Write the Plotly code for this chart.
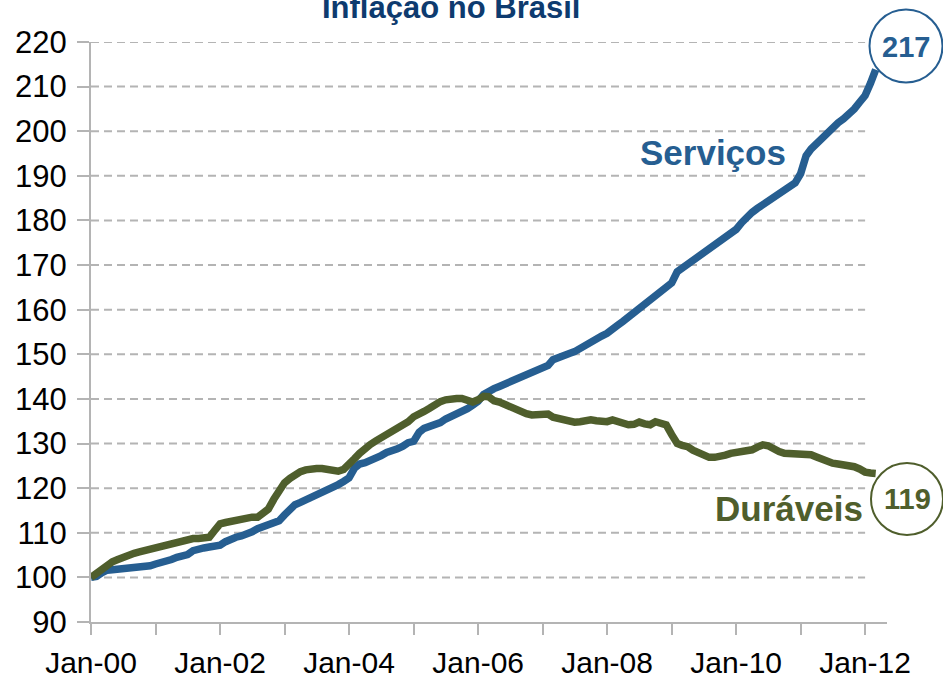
import pandas as pd
import plotly.graph_objects as go

# ---- data (monthly index, Jan-2000 = 100) ----
start_month = "2000-01-01"
servicos = [
    100.0, 100.2, 101.0, 101.6, 101.7, 101.8, 101.8, 101.9, 102.0, 102.0, 102.1, 102.6,  # 2000
    103.0, 103.2, 103.4, 104.0, 104.5, 104.8, 105.1, 106.0, 106.5, 106.6, 106.8, 107.0,  # 2001
    107.2, 108.0, 108.7, 109.0, 109.3, 109.6, 110.2, 110.9, 111.4, 111.8, 112.2, 112.7,  # 2002
    114.0, 115.5, 116.3, 116.8, 117.3, 118.0, 118.6, 119.1, 119.6, 120.3, 120.8, 121.5,  # 2003
    122.3, 124.5, 125.4, 125.7, 126.1, 126.5, 127.3, 128.0, 128.3, 128.8, 129.4, 130.2,  # 2004
    130.5, 132.5, 133.4, 133.8, 134.3, 134.7, 135.5, 136.0, 136.6, 137.2, 137.8, 138.6,  # 2005
    139.5, 141.0, 141.8, 142.3, 142.8, 143.3, 143.8, 144.3, 144.8, 145.3, 145.8, 146.3,  # 2006
    146.9, 147.5, 148.8, 149.4, 149.8, 150.2, 150.6, 151.4, 152.2, 152.8, 153.4, 154.1,  # 2007
    154.7, 155.4, 156.5, 157.4, 158.3, 159.2, 160.3, 161.1, 162.0, 162.8, 163.7, 164.6,  # 2008
    166.0, 168.5, 169.3, 170.0, 170.8, 171.8, 172.7, 173.5, 174.3, 175.0, 175.8, 177.0,  # 2009
    178.0, 179.5, 180.8, 181.8, 182.7, 183.5, 184.2, 184.9, 185.7, 186.8, 187.6, 188.4,  # 2010
    190.5, 194.5, 196.0, 197.3, 198.5, 199.6, 200.8, 201.9, 202.8, 203.8, 205.0, 206.5,  # 2011
    208.0, 210.8, 213.8,                                                                 # 2012
]
duraveis = [
    100.0, 101.0, 102.0, 102.9, 103.5, 104.0, 104.6, 105.1, 105.4, 105.7, 106.0, 106.4,  # 2000
    106.7, 107.0, 107.3, 107.7, 108.0, 108.2, 108.5, 108.7, 108.7, 108.8, 109.0, 110.5,  # 2001
    112.0, 112.3, 112.5, 112.8, 113.2, 113.5, 113.5, 113.5, 114.3, 115.3, 117.5, 119.5,  # 2002
    121.2, 122.2, 123.0, 123.7, 124.1, 124.4, 124.4, 124.4, 124.3, 123.9, 123.8, 124.2,  # 2003
    125.2, 126.6, 127.8, 129.0, 129.8, 130.6, 131.3, 131.9, 132.5, 133.4, 134.2, 134.9,  # 2004
    136.0, 136.9, 137.2, 137.9, 138.8, 139.4, 139.8, 140.1, 140.1, 140.1, 139.9, 139.3,  # 2005
    139.8, 140.6, 140.5, 139.6, 139.3, 138.8, 137.9, 137.7, 137.3, 136.7, 136.4, 136.5,  # 2006
    136.7, 136.6, 135.9, 135.6, 135.2, 134.9, 134.8, 134.9, 135.2, 135.3, 135.1, 134.9,  # 2007
    134.9, 135.3, 134.9, 134.3, 134.2, 134.3, 134.8, 134.4, 134.2, 134.9, 134.6, 134.2,  # 2008
    132.0, 130.0, 129.6, 129.3, 128.5, 127.8, 127.2, 126.9, 126.9, 127.0, 127.4, 127.8,  # 2009
    127.9, 128.1, 128.4, 128.6, 129.2, 129.7, 129.5, 128.6, 128.2, 127.8, 127.8, 127.8,  # 2010
    127.8, 127.8, 127.5, 127.0, 126.4, 125.9, 125.6, 125.4, 125.3, 125.1, 124.8, 124.3,  # 2011
    123.6, 123.4, 123.3,                                                                 # 2012
]
series_names = ["Serviços", "Duráveis"]
end_labels = ["217", "119"]
title_text = "Inflação no Brasil"
y_ticks = list(range(90, 221, 10))
x_tick_years = list(range(2000, 2013))
x_tick_text = [f"Jan-{y % 100:02d}" if y % 2 == 0 else "" for y in x_tick_years]

# ---- styles ----
BLUE = "#265E91"
OLIVE = "#4F5E2C"
NAVY = "#0E3B6F"
GRID = "#B4B4B4"
FONT = "Liberation Sans, Arial, Helvetica, sans-serif"

dates = pd.date_range(start_month, periods=len(servicos), freq="MS")
tick_vals = [f"{y}-01-01" for y in x_tick_years]

fig = go.Figure()
fig.add_trace(go.Scatter(x=dates, y=servicos, mode="lines", name=series_names[0],
                         line=dict(color=BLUE, width=7.5), hoverinfo="x+y"))
fig.add_trace(go.Scatter(x=dates, y=duraveis, mode="lines", name=series_names[1],
                         line=dict(color=OLIVE, width=7.5), hoverinfo="x+y"))

# dashed gridlines, ending at the last year tick
shapes = []
for v in y_ticks[1:]:
    shapes.append(dict(type="line", xref="x", yref="y", x0=tick_vals[0], x1=tick_vals[-1],
                       y0=v, y1=v, line=dict(color=GRID, width=2, dash="8px,5px"), layer="below"))

# end-value circles (paper coords, above traces)
W, H = 943, 680
ml, mr, mt, mb = 91, 56, 42, 58
pw, ph = W - ml - mr, H - mt - mb


def px2paper(px, py):
    return (px - ml) / pw, 1 - (py - mt) / ph


circles = [((906, 46), 36.5, BLUE), ((907, 499), 36, OLIVE)]
for (cx, cy), r, col in circles:
    x0, y1 = px2paper(cx - r, cy - r)
    x1, y0 = px2paper(cx + r, cy + r)
    shapes.append(dict(type="circle", xref="paper", yref="paper", x0=x0, x1=x1, y0=y0, y1=y1,
                       line=dict(color=col, width=2), fillcolor="white", layer="above"))

annotations = []
tx, ty = px2paper(451, 7)
annotations.append(dict(text=f"<b>{title_text}</b>", xref="paper", yref="paper", x=tx, y=ty,
                        xanchor="center", yanchor="middle", showarrow=False,
                        font=dict(family=FONT, size=31, color=NAVY)))
for (cx, cy), txt, col in [((906, 47), end_labels[0], BLUE), ((907, 499), end_labels[1], OLIVE)]:
    ax, ay = px2paper(cx, cy)
    annotations.append(dict(text=f"<b>{txt}</b>", xref="paper", yref="paper", x=ax, y=ay,
                            xanchor="center", yanchor="middle", showarrow=False,
                            font=dict(family=FONT, size=29, color=col)))
for (cx, cy), txt, col in [((713, 152), series_names[0], BLUE), ((788.5, 508), series_names[1], OLIVE)]:
    ax, ay = px2paper(cx, cy)
    annotations.append(dict(text=f"<b>{txt}</b>", xref="paper", yref="paper", x=ax, y=ay,
                            xanchor="center", yanchor="middle", showarrow=False,
                            font=dict(family=FONT, size=35, color=col)))

fig.update_layout(
    width=W, height=H,
    margin=dict(l=ml, r=mr, t=mt, b=mb, pad=0, autoexpand=False),
    paper_bgcolor="white", plot_bgcolor="white",
    showlegend=False,
    font=dict(family=FONT, size=31, color="black"),
    shapes=shapes, annotations=annotations,
    xaxis=dict(type="date", range=["2000-01-01", "2012-05-04"],
               tickvals=tick_vals, ticktext=x_tick_text, automargin=False,
               ticks="outside", ticklen=11, tickwidth=2, tickcolor=GRID,
               showline=True, linecolor=GRID, linewidth=2, showgrid=False, zeroline=False,
               ticklabelstandoff=2, tickfont=dict(size=30)),
    yaxis=dict(range=[90, 220], tickvals=y_ticks, automargin=False,
               ticks="outside", ticklen=12, tickwidth=2, tickcolor=GRID,
               showline=True, linecolor=GRID, linewidth=2, showgrid=False, zeroline=False,
               ticklabelstandoff=4, tickfont=dict(size=31)),
)

fig.write_html(
    "out.html",
    config={"displayModeBar": False},
    post_script="document.body.style.margin='0';document.body.style.overflow='hidden';",
)
